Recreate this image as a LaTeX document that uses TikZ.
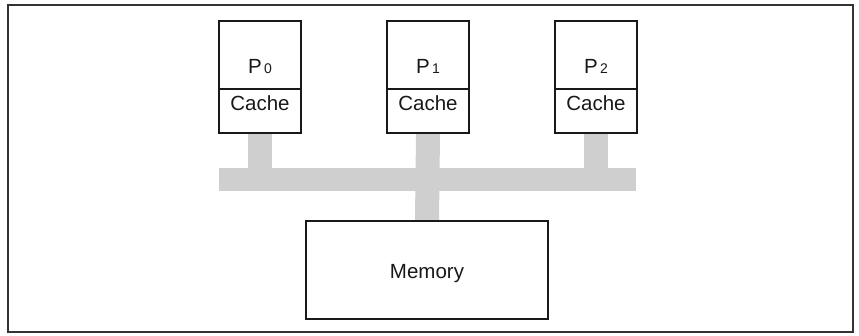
\documentclass[tikz,border=0pt]{standalone}
\usepackage{fontspec}
\setmainfont{Liberation Sans}
\usetikzlibrary{backgrounds}
\begin{document}
\begin{tikzpicture}[x=1pt,y=-1pt,
  box/.style={draw=black!90,line width=2pt,fill=white,inner sep=0pt},
  busbar/.style={fill=black!19,draw=none,inner sep=0pt},
  stub/.style={draw=black!19,line width=24pt},
  lbl/.style={font=\fontsize{20.5}{23}\selectfont,text=black!90,anchor=base,inner sep=0pt},
  frame/.style={draw=black!80,line width=2pt}]
\useasboundingbox (0,0) rectangle (859,335);
\draw[frame] (8,5) rectangle (853,332);
\newcommand{\psub}[1]{P\kern2.5pt\raisebox{0pt}{\fontsize{14}{15}\selectfont #1}}
% boxes
\foreach \i/\x in {0/260,1/428,2/596}{
  \node[box,minimum width=82pt,minimum height=68pt] (p\i) at (\x,55) {};
  \node[box,minimum width=82pt,minimum height=44pt] (c\i) at (\x,111) {};
  \node[lbl] (pt\i) at (\x,73) {\psub{\i}};
  \node[lbl] (ct\i) at (\x,110) {Cache};
}
\node[box,minimum width=242pt,minimum height=98pt] (mem) at (427,270) {};
\node[lbl] (mt) at (427,278) {Memory};
% bus and stubs
\begin{scope}[on background layer]
  \node[busbar,minimum width=417pt,minimum height=23pt] (bus) at (427.5,179.5) {};
  \draw[stub] (c0.south) -- (c0.south |- bus.center);
  \draw[stub] (c2.south) -- (c2.south |- bus.center);
  \draw[stub] (c1.south) -- (mem.north);
\end{scope}
\end{tikzpicture}
\end{document}
